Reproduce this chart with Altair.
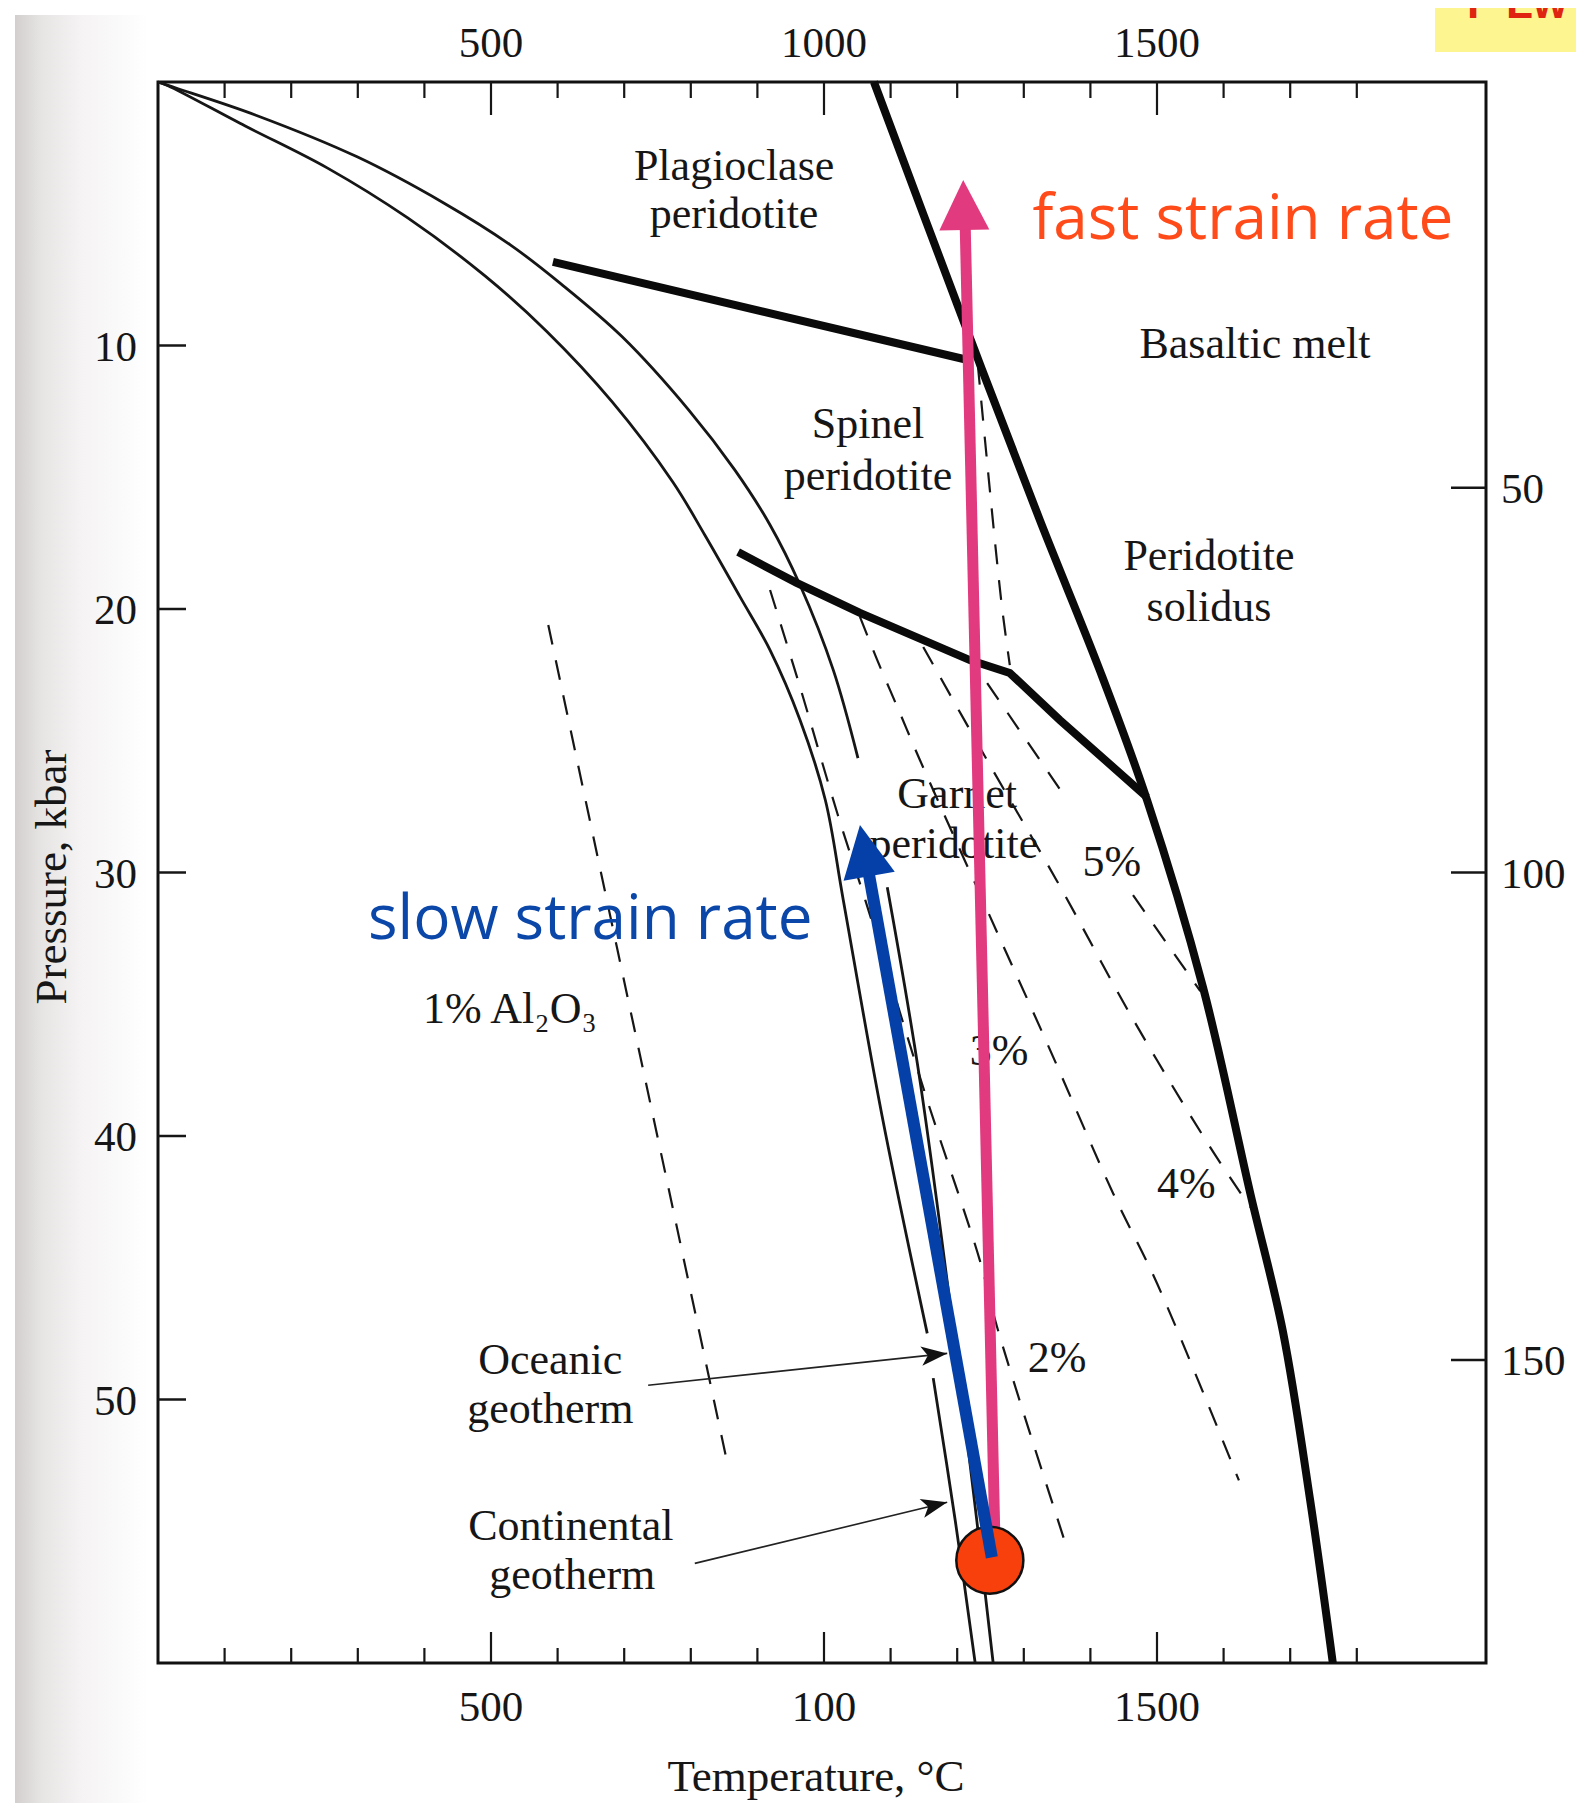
import altair as alt
import pandas as pd

# ---------------- data (temperature °C, pressure kbar) ----------------
OCEANIC_T_1 = [0, 26, 146, 299, 429, 529, 605, 697, 797, 866, 919, 964, 1014, 1051]
OCEANIC_P_1 = [0, 0.22, 1.25, 2.84, 4.59, 6.18, 7.66, 9.67, 12.45, 14.72, 16.81, 19.09, 22.32, 25.66]
OCEANIC_T_2 = [1095, 1144, 1215, 1254]
OCEANIC_P_2 = [30.56, 37.88, 51.55, 60.0]
CONT_T_1 = [0, 15, 131, 254, 375, 491, 583, 682, 773, 821, 874, 919, 964, 1002, 1029, 1087, 1155]
CONT_P_1 = [0, 0.14, 1.67, 3.26, 5.16, 7.36, 9.45, 12.14, 15.18, 17.19, 19.54, 21.56, 24.21, 27.25, 31.05, 39.21, 47.49]
CONT_T_2 = [1164, 1197, 1227]
CONT_P_2 = [49.19, 54.58, 60.0]

PLAG_SPINEL_T = [593, 1216]
PLAG_SPINEL_P = [6.83, 10.55]
SPINEL_GARNET_T = [871, 959, 1054, 1219, 1279, 1354, 1485]
SPINEL_GARNET_P = [17.84, 19.01, 20.15, 21.94, 22.43, 24.21, 27.14]
SOLIDUS_T = [1075, 1201, 1324, 1414, 1485, 1569, 1640, 1689, 1730, 1764]
SOLIDUS_P = [0, 8.50, 16.62, 22.32, 27.25, 34.35, 42.17, 47.41, 53.83, 60.0]

SP_DASH_T = [1231, 1266, 1279]
SP_DASH_P = [10.74, 19.66, 22.13]
AL1_T = [586, 689, 773, 854]
AL1_P = [20.61, 32.83, 42.74, 52.31]
AL2_T = [919, 964, 1020, 1062, 1155, 1234, 1260, 1366]
AL2_P = [19.28, 22.96, 27.75, 31.05, 38.64, 44.72, 47.26, 55.73]
AL3_T = [1054, 1080, 1114, 1144, 1245, 1335, 1434, 1500, 1623]
AL3_P = [20.30, 21.94, 23.95, 25.73, 31.43, 36.48, 42.17, 45.59, 53.07]
AL4_T = [1149, 1249, 1350, 1464, 1580, 1640]
AL4_P = [21.44, 25.92, 30.33, 35.57, 40.43, 42.70]
AL5A_T = [1245, 1359]
AL5A_P = [22.81, 27.02]
AL5B_T = [1464, 1565]
AL5B_P = [30.86, 34.50]

# annotation arrows
OCEAN_ARROW_T = [736, 1185]
OCEAN_ARROW_P = [49.46, 48.25]
CONT_ARROW_T = [806, 1185]
CONT_ARROW_P = [56.22, 53.90]
FAST_T = [1257, 1212]
FAST_P = [55.73, 5.42]
FAST_TIP = (1209, 3.72)
SLOW_T = [1252, 1065]
SLOW_P = [55.99, 29.72]
SLOW_TIP = (1054, 28.2)
START_POINT = (1249, 56.1)

# text labels
BLACK_LABELS = ["Plagioclase", "peridotite", "Spinel", "peridotite", "Basaltic melt",
                "Peridotite", "solidus", "Garnet", "peridotite", "5%", "4%", "3%", "2%",
                "Oceanic", "geotherm", "Continental", "geotherm"]
BLACK_T = [865, 865, 1066, 1066, 1647, 1578, 1578, 1200, 1195, 1432, 1544, 1263, 1350,
           589, 589, 620, 622]
BLACK_P = [3.71, 5.54, 13.51, 15.48, 10.47, 18.52, 20.46, 27.55, 29.45, 30.13, 42.36,
           37.31, 48.97, 49.04, 50.90, 55.35, 57.20]
AL_LABEL = "1% Al₂O₃"
AL_LABEL_POS = (398, 35.72)

# axes
TICKS_T = list(range(100, 1900, 100))
MAJOR_T = [500, 1000, 1500]
TOP_LABELS = ["500", "1000", "1500"]
BOTTOM_LABELS = ["500", "100", "1500"]
P_TICKS = [10, 20, 30, 40, 50]
DEPTH_LABELS = ["50", "100", "150"]
DEPTH_P = [15.4, 30.0, 48.5]

# ---------------- chart ----------------
W, H = 1328, 1581
xs = alt.Scale(domain=[0, 1994], nice=False, zero=False)
ys = alt.Scale(domain=[0, 60], nice=False, zero=False, reverse=True)
X = alt.X("T:Q", scale=xs, axis=None)
Y = alt.Y("P:Q", scale=ys, axis=None)
SERIF = "Liberation Serif"
INK = "#161616"


def line_df(segments):
    rows = []
    for name, Ts, Ps in segments:
        for i, (t, p) in enumerate(zip(Ts, Ps)):
            rows.append({"seg": name, "i": i, "T": t, "P": p})
    return pd.DataFrame(rows)


def lines(segments, **mark):
    return alt.Chart(line_df(segments)).mark_line(**mark).encode(
        x=X, y=Y, detail="seg:N", order="i:Q")


def point(T, P, **mark):
    return alt.Chart(pd.DataFrame({"T": [T], "P": [P]})).mark_point(**mark).encode(x=X, y=Y)


def texts(labels, Ts, Ps, **mark):
    df = pd.DataFrame({"label": labels, "T": Ts, "P": Ps})
    return alt.Chart(df).mark_text(**mark).encode(x=X, y=Y, text="label:N")


one = pd.DataFrame({"a": [0]})

bg = alt.Chart(one).mark_rect(
    color=alt.LinearGradient(gradient="linear", x1=0, x2=1, y1=0, y2=0,
                             stops=[alt.GradientStop(color="#d3cfcf", offset=0),
                                    alt.GradientStop(color="#e7e4e4", offset=0.2),
                                    alt.GradientStop(color="#f5f3f3", offset=0.5),
                                    alt.GradientStop(color="#ffffff", offset=1)])
).encode(x=alt.value(-143), x2=alt.value(-10), y=alt.value(-67), y2=alt.value(1732))

yellow = alt.Chart(one).mark_rect(color="#fdf590").encode(
    x=alt.value(1277), x2=alt.value(1418), y=alt.value(-74), y2=alt.value(-30))
red_txt = alt.Chart(one).mark_text(
    text="F  Lw", font="Liberation Sans", fontSize=44, fontWeight="bold",
    color="#e02412", align="left", baseline="alphabetic").encode(
    x=alt.value(1309), y=alt.value(-64))

SMOOTH = "catmull-rom"
dashed = lines([("sp", SP_DASH_T, SP_DASH_P), ("a1", AL1_T, AL1_P), ("a2", AL2_T, AL2_P),
                ("a3", AL3_T, AL3_P), ("a4", AL4_T, AL4_P), ("a5a", AL5A_T, AL5A_P),
                ("a5b", AL5B_T, AL5B_P)],
               color=INK, strokeWidth=2.2, strokeDash=[20, 16], interpolate=SMOOTH)
geotherms = lines([("o1", OCEANIC_T_1, OCEANIC_P_1), ("o2", OCEANIC_T_2, OCEANIC_P_2),
                   ("c1", CONT_T_1, CONT_P_1), ("c2", CONT_T_2, CONT_P_2)],
                  color=INK, strokeWidth=2.8, interpolate=SMOOTH)
boundaries = lines([("ps", PLAG_SPINEL_T, PLAG_SPINEL_P),
                    ("sg", SPINEL_GARNET_T, SPINEL_GARNET_P)],
                   color="#0a0a0a", strokeWidth=8, strokeJoin="miter")
solidus = lines([("sol", SOLIDUS_T, SOLIDUS_P)], color="#0a0a0a", strokeWidth=8,
                interpolate=SMOOTH)

thin_arrows = lines([("oa", OCEAN_ARROW_T, OCEAN_ARROW_P), ("ca", CONT_ARROW_T, CONT_ARROW_P)],
                    color="#222222", strokeWidth=1.6)
BARB = "M0,0L0.75,2L0,1.5L-0.75,2Z"
ocean_head = point(OCEAN_ARROW_T[1], OCEAN_ARROW_P[1], shape=BARB, filled=True,
                   color="#111111", opacity=1, size=676, angle=83.9)
cont_head = point(CONT_ARROW_T[1], CONT_ARROW_P[1], shape=BARB, filled=True,
                  color="#111111", opacity=1, size=676, angle=76.4)

black_text = texts(BLACK_LABELS, BLACK_T, BLACK_P, font=SERIF, fontSize=44, color=INK,
                   align="center", baseline="alphabetic")
al_text = texts([AL_LABEL], [AL_LABEL_POS[0]], [AL_LABEL_POS[1]], font=SERIF, fontSize=44,
                color=INK, align="left", baseline="alphabetic")

HEAD = "M0,0L1,2L-1,2Z"
pink = lines([("fast", FAST_T, FAST_P)], color="#e23a7e", strokeWidth=11, strokeCap="butt")
pink_head = point(FAST_TIP[0], FAST_TIP[1], shape=HEAD, filled=True, color="#e23a7e",
                  opacity=1, size=2500, angle=358.7)
circle = point(START_POINT[0], START_POINT[1], shape="circle", filled=True,
               fill="#f7400c", stroke="#111111", strokeWidth=2.5, opacity=1, size=4500)
blue = lines([("slow", SLOW_T, SLOW_P)], color="#0440a8", strokeWidth=12, strokeCap="butt")
blue_head = point(SLOW_TIP[0], SLOW_TIP[1], shape=HEAD, filled=True, color="#0440a8",
                  opacity=1, size=2704, angle=349.8)

slow_text = texts(["slow strain rate"], [649], [32.53], font="Open Sans", fontSize=62,
                  color="#0b47a8", align="center", baseline="alphabetic")
fast_text = texts(["fast strain rate"], [1629], [5.95], font="Open Sans", fontSize=62,
                  color="#ff4b19", align="center", baseline="alphabetic")

# ticks (inward) and tick labels
minor_T = [t for t in TICKS_T if t not in MAJOR_T]
tdf_minor = pd.DataFrame({"T": minor_T})
tdf_major = pd.DataFrame({"T": MAJOR_T})
top_minor = alt.Chart(tdf_minor).mark_rule(color=INK, strokeWidth=2.2).encode(
    x=X, y=alt.value(0), y2=alt.value(16))
top_major = alt.Chart(tdf_major).mark_rule(color=INK, strokeWidth=2.2).encode(
    x=X, y=alt.value(0), y2=alt.value(33))
bot_minor = alt.Chart(tdf_minor).mark_rule(color=INK, strokeWidth=2.2).encode(
    x=X, y=alt.value(H), y2=alt.value(H - 15))
bot_major = alt.Chart(tdf_major).mark_rule(color=INK, strokeWidth=2.2).encode(
    x=X, y=alt.value(H), y2=alt.value(H - 31))
left_ticks = alt.Chart(pd.DataFrame({"P": P_TICKS})).mark_rule(color=INK, strokeWidth=2.5).encode(
    y=Y, x=alt.value(0), x2=alt.value(28))
right_ticks = alt.Chart(pd.DataFrame({"P": DEPTH_P})).mark_rule(color=INK, strokeWidth=2.5).encode(
    y=Y, x=alt.value(W - 35), x2=alt.value(W))

top_lab = alt.Chart(pd.DataFrame({"T": MAJOR_T, "label": TOP_LABELS})).mark_text(
    font=SERIF, fontSize=43, color=INK, align="center", baseline="alphabetic").encode(
    x=X, y=alt.value(-25), text="label:N")
bot_lab = alt.Chart(pd.DataFrame({"T": MAJOR_T, "label": BOTTOM_LABELS})).mark_text(
    font=SERIF, fontSize=43, color=INK, align="center", baseline="alphabetic").encode(
    x=X, y=alt.value(H + 58), text="label:N")
left_lab = alt.Chart(pd.DataFrame({"P": P_TICKS, "label": [str(p) for p in P_TICKS]})).mark_text(
    font=SERIF, fontSize=43, color=INK, align="right", baseline="alphabetic", dy=15).encode(
    y=Y, x=alt.value(-21), text="label:N")
right_lab = alt.Chart(pd.DataFrame({"P": DEPTH_P, "label": DEPTH_LABELS})).mark_text(
    font=SERIF, fontSize=43, color=INK, align="left", baseline="alphabetic", dy=15).encode(
    y=Y, x=alt.value(W + 15), text="label:N")
x_title = alt.Chart(one).mark_text(text="Temperature, °C", font=SERIF, fontSize=45, color=INK,
                                   align="center", baseline="alphabetic").encode(
    x=alt.value(658), y=alt.value(H + 128))
y_title = alt.Chart(one).mark_text(text="Pressure, kbar", font=SERIF, fontSize=45, color=INK,
                                   align="center", baseline="alphabetic", angle=270).encode(
    x=alt.value(-92), y=alt.value(795))

chart = alt.layer(
    bg, yellow, red_txt,
    dashed, geotherms, boundaries, solidus, thin_arrows, ocean_head, cont_head,
    black_text, al_text,
    pink, pink_head, circle, blue, blue_head, slow_text, fast_text,
    top_minor, top_major, bot_minor, bot_major, left_ticks, right_ticks,
    top_lab, bot_lab, left_lab, right_lab, x_title, y_title,
).properties(
    width=W, height=H,
    padding={"left": 150, "top": 74, "right": 90, "bottom": 140},
    autosize=alt.AutoSizeParams(type="none"),
    background="white",
).configure_view(stroke="#111111", strokeWidth=3)

chart.save("out.html", embed_options={"renderer": "svg", "actions": False})
